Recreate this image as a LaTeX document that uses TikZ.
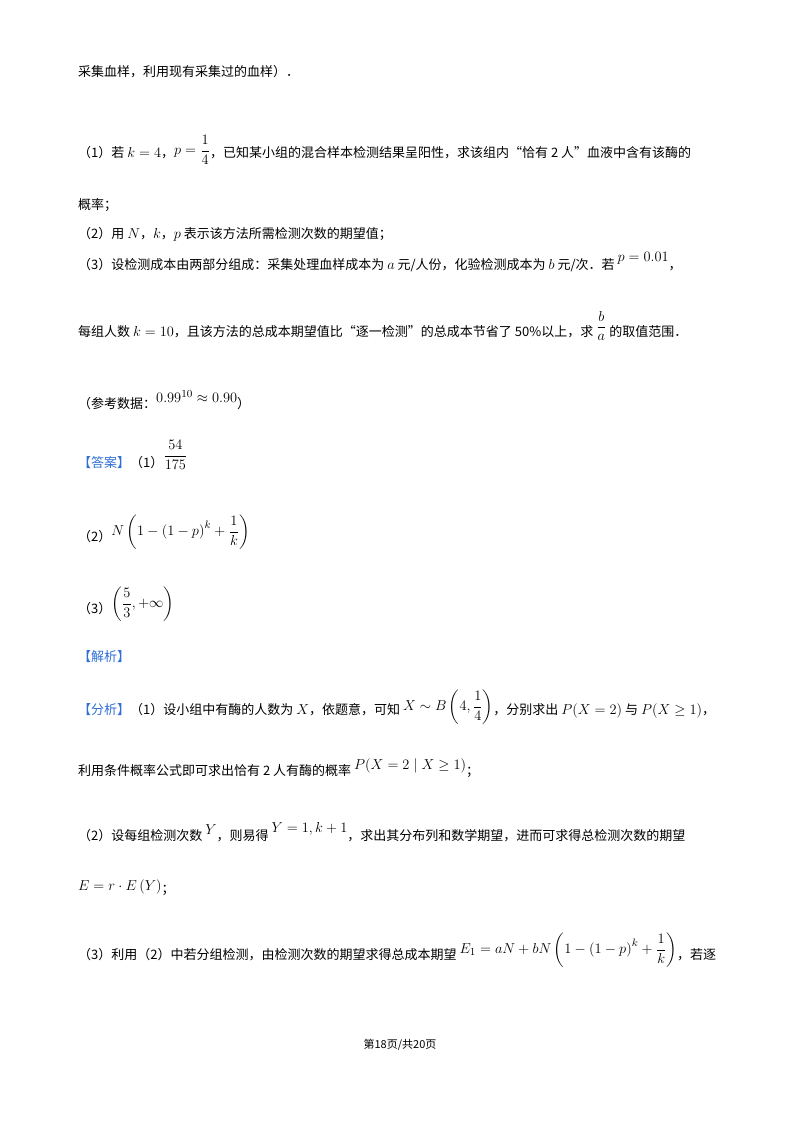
\documentclass[tikz,border=0pt]{standalone}
\usepackage{amsmath}
\usepackage{graphicx}
\usepackage{fontspec}
\setmainfont{Noto Sans CJK SC}
\definecolor{ansblue}{HTML}{2F6FD6}
\newcommand{\mm}[2][0pt]{\raisebox{#1}{\scalebox{1.2}{$#2$}}}
\begin{document}
\begin{tikzpicture}[x=1pt,y=-1pt,
  ln/.style={anchor=west,inner sep=0pt,font=\fontsize{13}{15}\selectfont},
  bl/.style={text=ansblue}]
\useasboundingbox (0,0) rectangle (800,1132);
\fill[white] (0,0) rectangle (800,1132);
\node[ln] (l1) at (78,72) {采集血样，利用现有采集过的血样）．};
\node[ln] (l2) at (78,150) {（1）若 \mm{k=4}，\mm[3pt]{p=\dfrac14}，已知某小组的混合样本检测结果呈阳性，求该组内“恰有 2 人”血液中含有该酶的};
\node[ln] (l3) at (78,205) {概率；};
\node[ln] (l4) at (78,234) {（2）用 \mm{N}，\mm{k}，\mm{p} 表示该方法所需检测次数的期望值；};
\node[ln] (l5) at (78,262) {（3）设检测成本由两部分组成：采集处理血样成本为 \mm{a} 元/人份，化验检测成本为 \mm{b} 元/次．若 \mm[8pt]{p=0.01}，};
\node[ln] (l6) at (78,326) {每组人数 \mm{k=10}，且该方法的总成本期望值比“逐一检测”的总成本节省了 50\%以上，求 \mm[6pt]{\dfrac ba} 的取值范围．};
\node[ln] (l7) at (78,400) {（参考数据：\mm[6pt]{0.99^{10}\approx0.90}）};
\node[ln] (l8) at (78,455) {{\color{ansblue}【答案】}（1）\mm[8pt]{\dfrac{54}{175}}};
\node[ln] (l9) at (78,532) {（2）\mm[6pt]{N\left(1-\left(1-p\right)^k+\dfrac1k\right)}};
\node[ln] (l10) at (78,604) {（3）\mm[6pt]{\left(\dfrac53,+\infty\right)}};
\node[ln,bl] (l11) at (78,657) {【解析】};
\node[ln] (l12) at (78,707) {{\color{ansblue}【分析】}（1）设小组中有酶的人数为 \mm{X}，依题意，可知 \mm[4pt]{X\sim B\left(4,\dfrac14\right)}，分别求出 \mm{P(X=2)} 与 \mm{P(X\geq1)}，};
\node[ln] (l13) at (78,768) {利用条件概率公式即可求出恰有 2 人有酶的概率 \mm[6pt]{P(X=2\mid X\geq1)}；};
\node[ln] (l14) at (78,832) {（2）设每组检测次数 \mm[6pt]{Y}，则易得 \mm[8pt]{Y=1,k+1}，求出其分布列和数学期望，进而可求得总检测次数的期望};
\node[ln] (l15) at (78,888) {\mm[3pt]{E=r\cdot E\left(Y\right)}；};
\node[ln] (l16) at (78,950) {（3）利用（2）中若分组检测，由检测次数的期望求得总成本期望 \mm[6pt]{E_1=aN+bN\left(1-\left(1-p\right)^k+\dfrac1k\right)}，若逐};
\node[anchor=center,inner sep=0pt,font=\fontsize{11}{13}\selectfont] (ft) at (400,1045) {第18页/共20页};
\end{tikzpicture}
\end{document}
